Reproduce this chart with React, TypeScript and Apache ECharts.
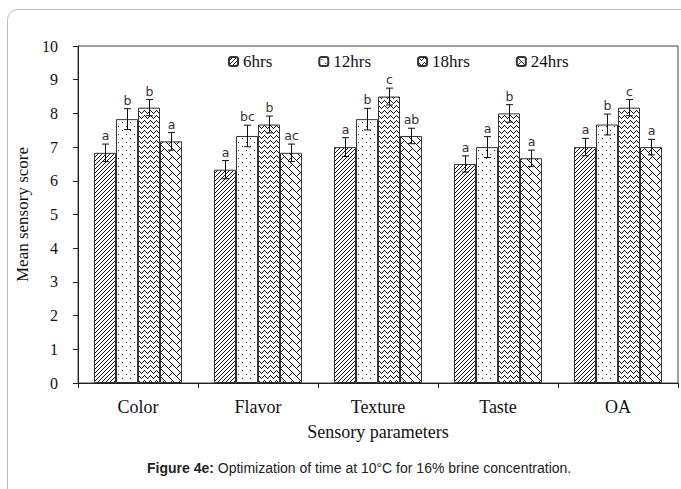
import React, { useEffect, useRef } from "react";
import * as echarts from "echarts";

const categories = ["Color", "Flavor", "Texture", "Taste", "OA"];
const seriesNames = ["6hrs", "12hrs", "18hrs", "24hrs"];
const h6 = [6.83, 6.33, 7.0, 6.5, 7.0];
const h12 = [7.83, 7.33, 7.83, 7.0, 7.67];
const h18 = [8.17, 7.67, 8.5, 8.0, 8.17];
const h24 = [7.17, 6.83, 7.33, 6.67, 7.0];
const e6 = [0.26, 0.27, 0.28, 0.24, 0.26];
const e12 = [0.31, 0.32, 0.32, 0.31, 0.31];
const e18 = [0.24, 0.25, 0.25, 0.26, 0.24];
const e24 = [0.26, 0.26, 0.23, 0.24, 0.23];
const l6 = ["a", "a", "a", "a", "a"];
const l12 = ["b", "bc", "b", "a", "b"];
const l18 = ["b", "b", "c", "b", "c"];
const l24 = ["a", "ac", "ab", "a", "a"];
const yTicks = [0, 1, 2, 3, 4, 5, 6, 7, 8, 9, 10];

const values = [h6, h12, h18, h24];
const errors = [e6, e12, e18, e24];
const letters = [l6, l12, l18, l24];

function tile(w: number, h: number, draw: (px: (x: number, y: number) => void) => void) {
  const c = document.createElement("canvas");
  c.width = w;
  c.height = h;
  const ctx = c.getContext("2d") as CanvasRenderingContext2D;
  ctx.fillStyle = "#ffffff";
  ctx.fillRect(0, 0, w, h);
  ctx.fillStyle = "#111111";
  const px = (x: number, y: number) => {
    const xx = ((x % w) + w) % w;
    const yy = ((y % h) + h) % h;
    ctx.fillRect(xx, yy, 1, 1);
  };
  draw(px);
  return { image: c, repeat: "repeat", imageWidth: w, imageHeight: h } as any;
}

function makePatterns() {
  // 6hrs: diagonal hatch "/"
  const p6 = tile(4, 4, (px) => {
    for (let i = 0; i < 4; i++) px(i, 3 - i);
  });
  // 12hrs: sparse dots
  const p12 = tile(8, 8, (px) => {
    px(2, 2);
    px(6, 6);
  });
  // 18hrs: wave / zigzag
  const p18 = tile(6, 5, (px) => {
    const ys = [0, 1, 2, 3, 2, 1];
    for (let x = 0; x < 6; x++) px(x, ys[x]);
  });
  // 24hrs: diagonal brick
  const p24 = tile(16, 16, (px) => {
    for (let t = 0; t < 16; t++) {
      px(t, t);
      px(t + 8, t);
    }
    for (const p of [0, 8]) for (let j = 0; j <= 4; j++) px(p + j, p - j);
    for (const p of [0, 8]) for (let j = 0; j <= 4; j++) px(p + 8 + j, p - j);
  });
  return [p6, p12, p18, p24];
}

export default function App() {
  const ref = useRef<HTMLDivElement>(null);
  useEffect(() => {
    if (!ref.current) return;
    const chart = echarts.init(ref.current, undefined, { renderer: "svg" });
    const patterns = makePatterns();
    const barW = 22;
    const serif = "Liberation Serif";

    const barSeries = seriesNames.map((name, i) => ({
      name,
      type: "bar",
      data: values[i],
      barWidth: barW,
      barGap: "0%",
      itemStyle: { color: patterns[i], borderColor: "#333333", borderWidth: 1 },
      z: 2,
    }));

    const errSeries = seriesNames.map((name, i) => ({
      name: "err" + name,
      type: "custom",
      z: 5,
      encode: { x: 0, y: 1 },
      data: values[i].map((v, k) => [k, v, errors[i][k]]),
      renderItem: (params: any, api: any) => {
        const cat = api.value(0);
        const v = api.value(1);
        const e = api.value(2);
        const c = api.coord([cat, v]);
        const x = Math.round(c[0] + (i - 1.5) * barW) + 0.5;
        const top = api.coord([cat, v + e])[1];
        const bot = api.coord([cat, v - e])[1];
        const cap = 3.5;
        const st = { stroke: "#111111", lineWidth: 1 };
        return {
          type: "group",
          children: [
            { type: "line", shape: { x1: x, y1: top, x2: x, y2: bot }, style: st },
            { type: "line", shape: { x1: x - cap, y1: top, x2: x + cap, y2: top }, style: st },
            { type: "line", shape: { x1: x - cap, y1: bot, x2: x + cap, y2: bot }, style: st },
            {
              type: "text",
              x: x,
              y: top - 2,
              style: {
                text: letters[i][params.dataIndex],
                fill: "#333333",
                font: "12.5px DejaVu Sans",
                align: "center",
                verticalAlign: "bottom",
              },
            },
          ],
        };
      },
    }));

    chart.setOption({
      animation: false,
      backgroundColor: "#ffffff",
      grid: {
        left: 78,
        right: 3,
        top: 46,
        bottom: 106,
        show: true,
        borderColor: "#444444",
        borderWidth: 1,
        backgroundColor: "transparent",
      },
      legend: {
        data: seriesNames,
        left: 228,
        top: 53,
        padding: 0,
        itemGap: 46,
        itemWidth: 9,
        itemHeight: 9,
        textStyle: { fontFamily: serif, fontSize: 17, color: "#111111" },
      },
      xAxis: {
        type: "category",
        data: categories,
        name: "Sensory parameters",
        nameLocation: "middle",
        nameGap: 40,
        nameTextStyle: { fontFamily: serif, fontSize: 18, color: "#111111" },
        axisLine: { show: true, lineStyle: { color: "#222222", width: 1 } },
        axisTick: { show: true, length: 5, lineStyle: { color: "#222222" } },
        axisLabel: { fontFamily: serif, fontSize: 18, color: "#111111", margin: 15 },
      },
      yAxis: {
        type: "value",
        min: yTicks[0],
        max: yTicks[yTicks.length - 1],
        interval: 1,
        name: "Mean sensory score",
        nameLocation: "middle",
        nameGap: 47,
        nameRotate: 90,
        nameTextStyle: { fontFamily: serif, fontSize: 17, color: "#111111" },
        splitLine: { show: false },
        axisLine: { show: true, lineStyle: { color: "#222222", width: 1 } },
        axisTick: { show: true, length: 5, lineStyle: { color: "#222222" } },
        axisLabel: { fontFamily: serif, fontSize: 16, color: "#111111", margin: 20 },
      },
      graphic: [
        {
          type: "rect",
          shape: { x: 7.5, y: 9.5, width: 760, height: 560, r: 10 },
          style: { fill: "none", stroke: "#bdbdbd", lineWidth: 1 },
          silent: true,
        },
        {
          type: "text",
          left: 147,
          top: 461,
          style: {
            text: "{b|Figure 4e:} Optimization of time at 10°C for 16% brine concentration.",
            font: "14px Liberation Sans",
            fill: "#222222",
            rich: {
              b: { fontWeight: "bold", fontSize: 14, fontFamily: "Liberation Sans", fill: "#222222" },
            },
          },
        },
      ],
      series: [...barSeries, ...errSeries],
    } as any);
    return () => chart.dispose();
  }, []);
  return (
    <div
      ref={ref}
      style={{ position: "fixed", left: 0, top: 0, width: 681, height: 489, background: "#ffffff" }}
    />
  );
}
